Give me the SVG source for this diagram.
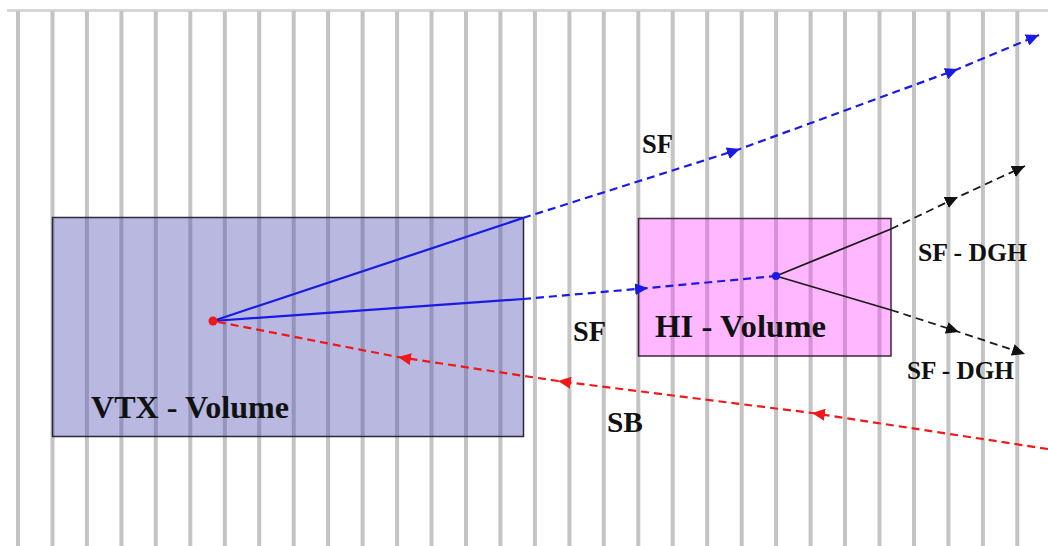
<svg xmlns="http://www.w3.org/2000/svg" width="1048" height="546" viewBox="0 0 1048 546">
<style>
.lbl{font-family:"Liberation Serif","Times New Roman",serif;font-weight:bold;fill:#111}
.blue{stroke:#1a1ae6;stroke-width:2.2;fill:none}
.black{stroke:#1a1a1a;stroke-width:1.8;fill:none}
.red{stroke:#f01818;stroke-width:2.2;fill:none}
.dash{stroke-dasharray:8 5}
</style>
<defs>
<marker id="ab" markerUnits="userSpaceOnUse" markerWidth="14" markerHeight="12" refX="13" refY="6" orient="auto" viewBox="0 0 14 12"><path d="M0,0 L13,6 L0,12 Z" fill="#1a1ae6"/></marker>
<marker id="ak" markerUnits="userSpaceOnUse" markerWidth="14" markerHeight="12" refX="13" refY="6" orient="auto" viewBox="0 0 14 12"><path d="M0,0 L13,6 L0,12 Z" fill="#111"/></marker>
<marker id="ar" markerUnits="userSpaceOnUse" markerWidth="14" markerHeight="12" refX="13" refY="6" orient="auto" viewBox="0 0 14 12"><path d="M0,0 L13,6 L0,12 Z" fill="#f01818"/></marker>
</defs>
<rect width="1048" height="546" fill="#ffffff"/>
<g id="background">
<line x1="7" y1="10.5" x2="1048" y2="10.5" stroke="#d6d6d6" stroke-width="3"/>
<path stroke="#c4c4c4" stroke-width="4" d="M18,11V546M52.5,11V546M86.9,11V546M121.4,11V546M155.8,11V546M190.3,11V546M224.8,11V546M259.2,11V546M293.7,11V546M328.1,11V546M362.6,11V546M397.1,11V546M431.5,11V546M466,11V546M500.4,11V546M534.9,11V546M569.4,11V546M603.8,11V546M638.3,11V546M672.7,11V546M707.2,11V546M741.7,11V546M776.1,11V546M810.6,11V546M845,11V546M879.5,11V546M914,11V546M948.4,11V546M982.9,11V546M1017.3,11V546"/>
</g>
<g id="vtx-volume">
<rect x="52.5" y="217.5" width="471" height="219" fill="rgb(73,73,175)" fill-opacity="0.39" stroke="#2a2a3a" stroke-width="1.5"/>
<text class="lbl" x="91" y="418" font-size="31" textLength="198" lengthAdjust="spacingAndGlyphs">VTX - Volume</text>
</g>
<g id="hi-volume">
<rect x="638.5" y="218.5" width="252.5" height="137.5" fill="rgb(255,46,255)" fill-opacity="0.34" stroke="#3a2a3a" stroke-width="1.5"/>
<text class="lbl" x="655" y="337" font-size="31" textLength="171" lengthAdjust="spacingAndGlyphs">HI - Volume</text>
</g>
<g id="connectors">
<path class="blue" d="M213,321 L523,218"/>
<path class="blue dash" d="M523,218 L740,149 L958,69 L1039,35" marker-mid="url(#ab)" marker-end="url(#ab)"/>
<path class="blue" d="M213,321 L523,299"/>
<path class="blue dash" d="M523,299 L648,288 L776,276" marker-mid="url(#ab)"/>
<path class="black" d="M776,276 L891,229"/>
<path class="black dash" d="M891,229 L958,197 L1025,166" marker-mid="url(#ak)" marker-end="url(#ak)"/>
<path class="black" d="M776,276 L891,310"/>
<path class="black dash" d="M891,310 L959,332 L1025,354" marker-mid="url(#ak)" marker-end="url(#ak)"/>
<path class="red dash" d="M1048,449 L812,413 L558,381 L398,357 L213,321" marker-mid="url(#ar)"/>
<circle cx="213" cy="321" r="4.5" fill="#f01818"/>
<circle cx="776" cy="276" r="4" fill="#1a1ae6"/>
</g>
<g id="labels">
<text class="lbl" x="642" y="153" font-size="27" textLength="31" lengthAdjust="spacingAndGlyphs">SF</text>
<text class="lbl" x="573" y="341" font-size="29" textLength="33" lengthAdjust="spacingAndGlyphs">SF</text>
<text class="lbl" x="607" y="432" font-size="30" textLength="36" lengthAdjust="spacingAndGlyphs">SB</text>
<text class="lbl" x="918" y="261" font-size="25" textLength="109" lengthAdjust="spacingAndGlyphs">SF - DGH</text>
<text class="lbl" x="907" y="379" font-size="25" textLength="107" lengthAdjust="spacingAndGlyphs">SF - DGH</text>
</g>
</svg>
